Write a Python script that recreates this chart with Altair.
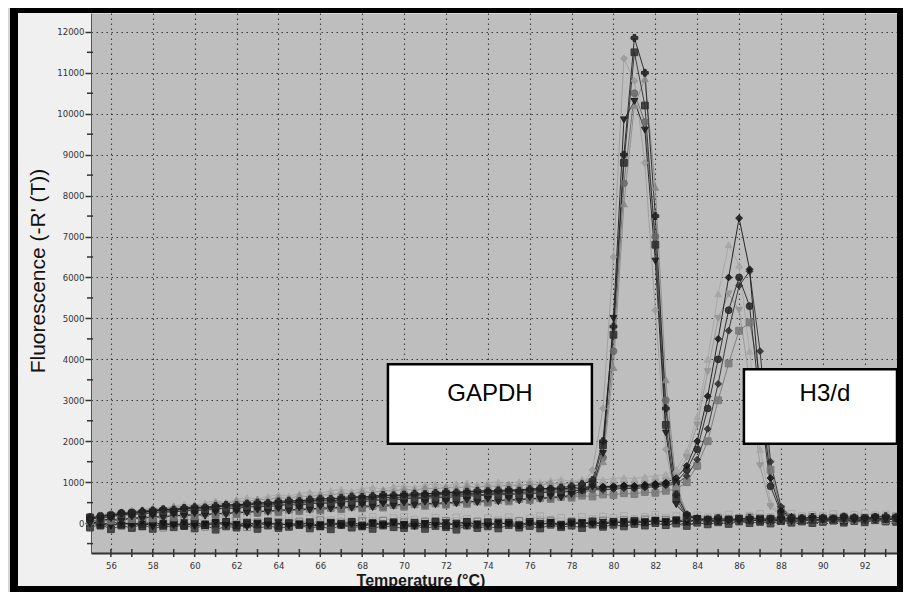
import altair as alt
import pandas as pd

# Temperature grid (deg C), 0.5 deg steps
T = [55.0, 55.5, 56.0, 56.5, 57.0, 57.5, 58.0, 58.5, 59.0, 59.5,
     60.0, 60.5, 61.0, 61.5, 62.0, 62.5, 63.0, 63.5, 64.0, 64.5,
     65.0, 65.5, 66.0, 66.5, 67.0, 67.5, 68.0, 68.5, 69.0, 69.5,
     70.0, 70.5, 71.0, 71.5, 72.0, 72.5, 73.0, 73.5, 74.0, 74.5,
     75.0, 75.5, 76.0, 76.5, 77.0, 77.5, 78.0, 78.5, 79.0, 79.5,
     80.0, 80.5, 81.0, 81.5, 82.0, 82.5, 83.0, 83.5, 84.0, 84.5,
     85.0, 85.5, 86.0, 86.5, 87.0, 87.5, 88.0, 88.5, 89.0, 89.5,
     90.0, 90.5, 91.0, 91.5, 92.0, 92.5, 93.0, 93.5, 94.0]

# GAPDH melt curves
G1 = [110, 160, 190, 240, 250, 290, 310, 340, 330, 370,
      390, 380, 420, 450, 440, 480, 500, 490, 530, 550,
      540, 580, 600, 590, 620, 650, 640, 660, 690, 680,
      700, 720, 710, 740, 760, 750, 770, 790, 780, 800,
      810, 790, 830, 850, 840, 870, 900, 950, 1050, 2000,
      4800, 9000, 11850, 11000, 7500, 2800, 700, 200, 110, 90,
      120, 80, 100, 130, 90, 110, 140, 100, 120, 150,
      130, 110, 160, 140, 120, 150, 170, 140, 160]
G2 = [60, 120, 170, 150, 210, 230, 260, 250, 290, 310,
      300, 340, 330, 360, 390, 380, 420, 410, 440, 460,
      450, 480, 500, 490, 520, 540, 530, 560, 580, 570,
      600, 610, 590, 630, 650, 640, 660, 680, 670, 700,
      690, 720, 740, 730, 760, 790, 820, 900, 1300, 2800,
      6500, 11350, 10800, 8800, 5200, 1800, 500, 150, 90, 70,
      60, 90, 70, 100, 80, 60, 110, 90, 70, 100,
      120, 90, 110, 130, 100, 120, 140, 110, 130]
G3 = [-20, 60, 110, 40, 150, 90, 180, 120, 210, 160,
      230, 170, 260, 200, 290, 240, 320, 260, 350, 290,
      370, 310, 400, 340, 420, 360, 450, 380, 470, 410,
      490, 430, 510, 450, 530, 470, 560, 500, 580, 520,
      600, 540, 620, 580, 650, 620, 700, 780, 880, 1700,
      5000, 9850, 10300, 9600, 6400, 2200, 450, 180, 110, 60,
      40, 70, 30, 60, 80, 50, 70, 40, 60, 90,
      70, 100, 80, 60, 90, 110, 80, 100, 120]
G4 = [120, 190, 250, 220, 310, 280, 360, 330, 410, 380,
      450, 420, 500, 470, 550, 510, 590, 560, 630, 600,
      670, 640, 700, 680, 740, 710, 770, 740, 800, 780,
      830, 800, 860, 830, 880, 850, 900, 870, 920, 890,
      940, 910, 960, 930, 980, 950, 990, 1010, 1050, 1500,
      3800, 7800, 10200, 10850, 8200, 3500, 900, 250, 120, 100,
      130, 100, 90, 120, 140, 110, 90, 120, 140, 110,
      130, 150, 120, 100, 140, 160, 130, 150, 170]
G5 = [140, 100, 170, 190, 230, 220, 250, 280, 270, 300,
      320, 310, 350, 370, 360, 390, 410, 400, 430, 450,
      440, 470, 490, 480, 510, 530, 520, 550, 570, 560,
      590, 610, 600, 630, 620, 650, 670, 660, 690, 700,
      690, 720, 710, 740, 760, 750, 780, 820, 950, 1900,
      4600, 8800, 11500, 10200, 6800, 2400, 600, 160, 100, 80,
      50, 90, 110, 70, 60, 100, 80, 110, 90, 70,
      100, 80, 120, 110, 90, 130, 100, 120, 140]
G6 = [30, 90, 60, 130, 100, 170, 120, 200, 150, 230,
      180, 250, 200, 280, 230, 300, 250, 330, 280, 360,
      300, 380, 330, 400, 350, 420, 370, 450, 400, 470,
      420, 490, 440, 510, 460, 530, 490, 560, 520, 580,
      550, 610, 580, 640, 610, 670, 650, 720, 820, 1600,
      4200, 8300, 10500, 9800, 7000, 3000, 800, 200, 100, 70,
      90, 60, 80, 100, 70, 90, 60, 80, 100, 90,
      80, 110, 90, 70, 100, 120, 90, 110, 100]

# H3/d melt curves
H1 = [130, 170, 220, 210, 260, 290, 280, 320, 350, 340,
      370, 400, 390, 430, 460, 450, 480, 510, 500, 530,
      550, 540, 580, 600, 590, 620, 640, 630, 660, 680,
      670, 700, 720, 710, 740, 760, 750, 780, 790, 770,
      800, 820, 810, 840, 850, 830, 860, 880, 870, 890,
      900, 920, 910, 940, 960, 990, 1100, 1400, 2000, 3100,
      4500, 6000, 7450, 6200, 3200, 1100, 300, 150, 120, 100,
      130, 110, 90, 120, 140, 110, 130, 150, 120]
H2 = [90, 170, 230, 290, 260, 340, 380, 350, 420, 460,
      430, 500, 540, 510, 580, 620, 590, 650, 690, 660,
      720, 760, 730, 790, 820, 780, 840, 870, 830, 890,
      910, 870, 930, 950, 900, 960, 980, 940, 990, 1000,
      960, 1010, 1030, 990, 1040, 1060, 1020, 1070, 1080, 1050,
      1090, 1110, 1080, 1130, 1150, 1190, 1300, 1750, 2600, 4000,
      5600, 6800, 6300, 4200, 1800, 500, 200, 120, 90, 110,
      80, 100, 120, 90, 110, 130, 100, 120, 140]
H3 = [100, 140, 160, 200, 190, 240, 260, 250, 290, 310,
      300, 340, 360, 350, 390, 410, 400, 440, 460, 450,
      480, 500, 490, 520, 540, 530, 560, 580, 570, 600,
      620, 610, 640, 660, 650, 680, 700, 690, 710, 730,
      720, 740, 760, 750, 770, 790, 780, 800, 820, 810,
      830, 850, 840, 870, 890, 920, 950, 1150, 1550, 2300,
      3400, 4700, 5800, 6150, 4200, 1500, 400, 150, 110, 80,
      100, 120, 90, 110, 130, 100, 120, 90, 110]
H4 = [150, 180, 210, 250, 270, 260, 300, 320, 310, 350,
      370, 360, 400, 420, 410, 450, 470, 460, 490, 510,
      500, 530, 550, 540, 570, 590, 580, 610, 630, 620,
      650, 670, 660, 690, 700, 720, 710, 740, 760, 750,
      770, 790, 780, 800, 820, 810, 840, 850, 830, 860,
      870, 890, 880, 900, 930, 960, 1000, 1300, 1800, 2800,
      4000, 5200, 6000, 5300, 2900, 900, 250, 130, 100, 120,
      90, 110, 130, 100, 120, 90, 110, 130, 100]
H5 = [40, 90, 60, 120, 100, 150, 120, 180, 150, 210,
      170, 240, 200, 260, 220, 290, 250, 310, 270, 330,
      290, 350, 310, 370, 340, 400, 360, 420, 380, 440,
      400, 460, 420, 480, 450, 510, 470, 530, 500, 560,
      530, 590, 560, 610, 590, 640, 620, 670, 650, 700,
      690, 730, 710, 760, 740, 790, 830, 1000, 1400, 2000,
      3000, 3900, 4700, 4900, 3600, 1300, 350, 140, 90, 70,
      90, 70, 100, 80, 110, 90, 70, 100, 80]
H6 = [110, 130, 180, 230, 220, 250, 290, 280, 310, 340,
      330, 370, 390, 380, 420, 440, 430, 470, 490, 480,
      520, 540, 530, 560, 590, 580, 610, 630, 620, 650,
      680, 670, 700, 720, 710, 740, 760, 750, 780, 800,
      790, 820, 840, 830, 850, 870, 860, 890, 910, 900,
      920, 940, 930, 960, 990, 1030, 1150, 1600, 2400, 3700,
      5000, 5600, 5200, 3500, 1400, 400, 180, 110, 80, 100,
      120, 90, 110, 130, 100, 80, 110, 130, 100]

# no-template controls (flat)
N1 = [20, -60, 40, -30, 10, -80, 30, -40, 0, -70,
      20, -50, -10, 30, -60, 10, -30, 40, -70, 0,
      -40, 20, -80, 10, -20, 30, -60, 0, -30, 20,
      -50, 10, -20, 40, -60, -10, 30, -40, 20, -30,
      10, -50, 30, -20, 0, -60, 20, -10, 40, -40,
      30, 0, 50, 20, 60, 30, 70, 40, 80, 50,
      90, 60, 100, 70, 110, 80, 60, 100, 70, 90,
      110, 80, 60, 100, 120, 90, 70, 110, 90]
N2 = [-80, 60, -120, 30, -90, 50, -20, -110, 20, -60,
      50, -90, 10, -40, 60, -100, 20, -50, 30, -80,
      40, -30, 70, -60, 10, -90, 50, -20, 60, -40,
      20, -70, 40, -10, 50, -80, 10, 40, -50, 30,
      -20, 50, -60, 30, 60, -30, 40, 10, -40, 60,
      20, 70, 40, 90, 30, 80, 50, 110, 60, 90,
      120, 70, 100, 140, 80, 110, 130, 90, 120, 150,
      100, 130, 150, 110, 90, 140, 120, 160, 130]
N3 = [50, -20, -70, 10, -40, 20, -90, -10, -60, 10,
      -80, -20, 20, -60, -30, -100, 0, -50, 10, -70,
      -20, -80, -40, 0, -70, -30, -90, -10, -60, 0,
      -40, -90, -20, -60, 10, -50, -80, -20, -70, 10,
      -30, -70, -10, -50, 20, -40, -20, 10, -30, 20,
      0, 40, 10, 30, 60, 20, 50, 30, 70, 40,
      60, 80, 50, 90, 60, 40, 80, 60, 90, 70,
      50, 80, 100, 70, 60, 90, 110, 80, 70]
N4 = [-40, 90, 0, 60, -30, 80, 20, -50, 70, 10,
      -30, 60, -60, 80, 0, 40, -40, 70, -20, 50,
      80, -10, 40, -50, 60, 20, -30, 70, 10, -20,
      50, 0, -40, 60, 20, -30, 70, -10, 40, -50,
      60, 10, -30, 80, 30, 0, 60, 40, 90, 30,
      80, 40, 110, 60, 100, 70, 40, 120, 90, 60,
      100, 130, 80, 110, 150, 100, 70, 120, 140, 100,
      130, 90, 120, 150, 110, 140, 100, 130, 160]
N5 = [-110, -30, -150, -60, -120, -20, -140, -70, -100, -40,
      -130, -50, -160, -80, -110, -30, -140, -60, -120, -90,
      -40, -130, -70, -150, -50, -110, -80, -140, -60, -100,
      -120, -50, -140, -70, -100, -160, -60, -120, -80, -130,
      -50, -110, -70, -130, -40, -100, -60, -120, -30, -90,
      -40, -80, -20, -60, 0, -50, -10, -70, 10, -30,
      20, -20, 40, 0, 30, -10, 50, 10, 40, 0,
      30, 60, 10, 50, 20, 70, 40, 30, 60]
N6 = [60, 130, 20, 110, 40, 150, 70, 10, 120, 50,
      140, 30, 100, 160, 60, 120, 20, 130, 80, 150,
      30, 110, 160, 70, 130, 40, 100, 150, 60, 120,
      150, 80, 20, 130, 60, 140, 100, 30, 120, 70,
      140, 60, 110, 170, 80, 130, 50, 150, 100, 160,
      120, 180, 100, 150, 200, 130, 170, 110, 190, 140,
      160, 210, 130, 180, 220, 150, 190, 230, 170, 200,
      180, 220, 160, 200, 240, 190, 210, 170, 230]

SERIES = ["N6", "N2", "N4", "N5", "N1", "N3",
          "H5", "H2", "H6", "H3", "H4", "H1",
          "G6", "G2", "G4", "G5", "G3", "G1"]
VALUES = [N6, N2, N4, N5, N1, N3, H5, H2, H6, H3, H4, H1, G6, G2, G4, G5, G3, G1]
COLORS = ["#a8a8a8", "#7c7c7c", "#a2a2a2", "#3a3a3a", "#222222", "#151515",
          "#787878", "#a6a6a6", "#969696", "#2e2e2e", "#262626", "#161616",
          "#6a6a6a", "#9c9c9c", "#8a8a8a", "#303030", "#1c1c1c", "#202020"]
SHAPES = ["square", "square", "triangle-up", "square", "square", "triangle-down",
          "square", "triangle-up", "triangle-down", "diamond", "circle", "diamond",
          "circle", "diamond", "triangle-up", "square", "triangle-down", "cross"]
FILLOP = [0.0, 0.0, 0.9, 0.9, 0.9, 0.9,
          0.9, 0.9, 0.9, 0.9, 0.9, 0.9,
          0.9, 0.9, 0.9, 0.9, 0.9, 0.9]

# Axis ticks / labels
X_LABELS = [56, 58, 60, 62, 64, 66, 68, 70, 72, 74, 76, 78, 80, 82, 84, 86, 88, 90, 92]
X_MINOR = [56, 57, 58, 59, 60, 61, 62, 63, 64, 65, 66, 67, 68, 69, 70, 71, 72, 73, 74,
           75, 76, 77, 78, 79, 80, 81, 82, 83, 84, 85, 86, 87, 88, 89, 90, 91, 92, 93]
Y_LABELS = [0, 1000, 2000, 3000, 4000, 5000, 6000, 7000, 8000, 9000, 10000, 11000, 12000]
Y_MINOR = [-500, 500, 1500, 2500, 3500, 4500, 5500, 6500, 7500, 8500, 9500, 10500, 11500]

# Annotation boxes
BOX_LABEL = ["GAPDH", "H3/d"]
BOX_T1 = [69.23, 86.23]
BOX_T2 = [78.97, 93.54]
BOX_F1 = [3880, 3760]
BOX_F2 = [1940, 1940]
BOX_TXT_T = [74.1, 90.1]
BOX_TXT_F = [3150, 3150]

rows = []
for name, vals, fo in zip(SERIES, VALUES, FILLOP):
    for t, v in zip(T, vals):
        rows.append({"series": name, "T": t, "F": v, "fo": fo})
df = pd.DataFrame(rows)

W, H = 806, 540
LABEL_FONT = "Liberation Sans Narrow, DejaVu Sans Condensed, Liberation Sans, Arial"

xscale = alt.Scale(domain=[55.05, 93.54], nice=False, zero=False)
yscale = alt.Scale(domain=[-730, 12460], nice=False, zero=False)
x_axis = alt.Axis(values=X_LABELS, format="d", title=None, ticks=False,
                  labelFont=LABEL_FONT, labelFontSize=9.5, labelColor="#333333",
                  labelPadding=7, domainColor="#333333", domainWidth=2,
                  grid=True, gridColor="#1a1a1a", gridDash=[1.5, 3.5], gridWidth=1.1,
                  gridOpacity=0.8)
y_axis = alt.Axis(values=Y_LABELS, format="d", title=None, tickSize=6, tickColor="#333333",
                  tickWidth=1.5, labelPadding=1, labelFont=LABEL_FONT, labelFontSize=9.5,
                  labelColor="#333333", domainColor="#555555", domainWidth=1,
                  grid=True, gridColor="#1a1a1a", gridDash=[1.5, 3.5], gridWidth=1.1,
                  gridOpacity=0.8)
xs = alt.X("T:Q", scale=xscale, axis=x_axis)
ys = alt.Y("F:Q", scale=yscale, axis=y_axis)

color_scale = alt.Scale(domain=SERIES, range=COLORS)

lines = alt.Chart(df).mark_line(strokeWidth=1, opacity=0.9).encode(
    x=xs, y=ys, detail="series:N",
    stroke=alt.Stroke("series:N", scale=color_scale, legend=None),
    order=alt.Order("T:Q"),
)
points = alt.Chart(df).mark_point(size=46, strokeWidth=1, opacity=0.95, filled=False).encode(
    x=xs, y=ys,
    shape=alt.Shape("series:N", scale=alt.Scale(domain=SERIES, range=SHAPES), legend=None),
    fill=alt.Fill("series:N", scale=color_scale, legend=None),
    stroke=alt.Stroke("series:N", scale=color_scale, legend=None),
    fillOpacity=alt.FillOpacity("fo:Q", scale=None),
)

ymin_df = pd.DataFrame({"F": Y_MINOR})
ymin = alt.Chart(ymin_df).mark_rule(color="#333333", strokeWidth=1.5).encode(
    y=ys, x=alt.value(-4), x2=alt.value(2))

xmin_df = pd.DataFrame({"T": X_MINOR})
xmin = alt.Chart(xmin_df).mark_rule(color="#333333", strokeWidth=1.5).encode(
    x=xs, y=alt.value(H - 4), y2=alt.value(H + 4))

box_df = pd.DataFrame({"label": BOX_LABEL, "T": BOX_T1, "T2": BOX_T2, "F": BOX_F1, "F2": BOX_F2})
boxes = alt.Chart(box_df).mark_rect(fill="white", stroke="black", strokeWidth=2.5).encode(
    x=xs, x2="T2:Q", y=ys, y2="F2:Q")
txt_df = pd.DataFrame({"label": BOX_LABEL, "T": BOX_TXT_T, "F": BOX_TXT_F})
box_txt = alt.Chart(txt_df).mark_text(font="Liberation Sans, Arial", fontSize=24, color="black",
                                      align="center", baseline="middle").encode(
    x=xs, y=ys, text="label:N")

one = pd.DataFrame({"title": ["Fluorescence (-R' (T))"]})
ytitle = alt.Chart(one).mark_text(font="Liberation Sans, Arial", fontSize=21, angle=270,
                                  color="#111111", align="center", baseline="middle").encode(
    x=alt.value(-52), y=alt.value(258), text="title:N")
two = pd.DataFrame({"title": ["Temperature (\u00b0C)"]})
xtitle = alt.Chart(two).mark_text(font="Liberation Sans, Arial", fontSize=16, fontWeight="bold",
                                  color="#1a1a1a", align="center", baseline="alphabetic").encode(
    x=alt.value(330), y=alt.value(573), text="title:N")

fr = pd.DataFrame({"k": [0]})
def frame_rect(x1, x2, y1, y2, col):
    return alt.Chart(fr).mark_rect(color=col).encode(
        x=alt.value(x1), x2=alt.value(x2), y=alt.value(y1), y2=alt.value(y2))

frame = [
    frame_rect(-83, -81, -5, 579, "#d6d6d6"),
    frame_rect(-81, -73, -5, 579, "#000000"),
    frame_rect(-81, 812, -5, 0, "#000000"),
    frame_rect(806, 812, -5, 579, "#000000"),
    frame_rect(-81, 812, 573, 579, "#000000"),
]

chart = alt.layer(lines, points, ymin, xmin, boxes, box_txt, ytitle, xtitle, *frame).properties(
    width=W, height=H,
    padding={"left": 83, "top": 5, "right": 6, "bottom": 39},
    autosize="none",
).configure(background="#f0f0f0").configure_view(fill="#bebebe", stroke="transparent")

chart.save("out.html", embed_options={"renderer": "svg", "actions": False})
